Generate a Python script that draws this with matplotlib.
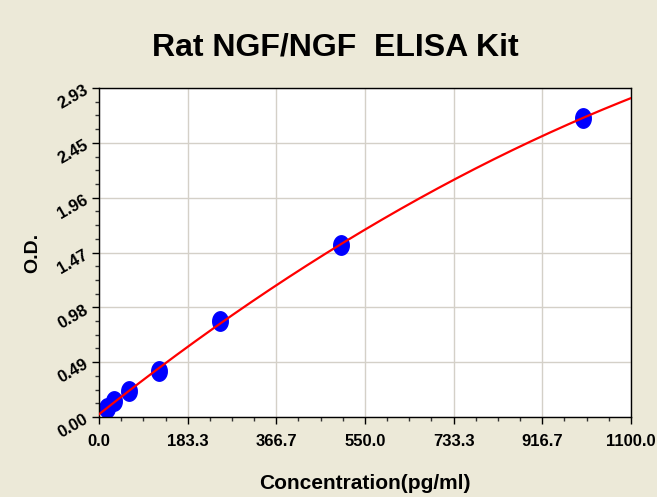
import numpy as np
import matplotlib
matplotlib.use("Agg")
import matplotlib.pyplot as plt
from matplotlib.ticker import FixedLocator, AutoMinorLocator

# Data
concentration = [15.6, 31.25, 62.5, 125, 250, 500, 1000]
od = [0.077, 0.142, 0.234, 0.41, 0.855, 1.532, 2.663]
x_tick_labels = ["0.0", "183.3", "366.7", "550.0", "733.3", "916.7", "1100.0"]
y_tick_labels = ["0.00", "0.49", "0.98", "1.47", "1.96", "2.45", "2.93"]
title = "Rat NGF/NGF  ELISA Kit"
x_max = 1100.0
y_max = 2.93

plt.rcParams['font.family'] = ['Liberation Sans', 'DejaVu Sans']

bg = '#ECE9D8'
fig = plt.figure(figsize=(6.57, 4.97), dpi=100, facecolor=bg)
ax = fig.add_axes([99/657, 80/497, 532/657, 329/497])
ax.set_facecolor('white')

# Fitted curve
coef = np.polyfit(concentration, od, 2)
xs = np.linspace(0, x_max, 400)
ax.plot(xs, np.polyval(coef, xs), color='#FF0000', lw=1.6, zorder=3)

# Ellipse marker
t = np.linspace(0, 2*np.pi, 40)
ell = np.column_stack([0.4*np.cos(t), 0.5*np.sin(t)])
ax.plot(concentration, od, linestyle='none', marker=ell, markersize=14,
        color='#0000FF', markeredgecolor='#0000FF', zorder=2)

ax.set_xlim(0, x_max)
ax.set_ylim(0, y_max)
xt = [i*x_max/6 for i in range(7)]
yt = [i*y_max/6 for i in range(7)]
ax.xaxis.set_major_locator(FixedLocator(xt))
ax.yaxis.set_major_locator(FixedLocator(yt))
ax.set_xticklabels(x_tick_labels, fontsize=12, fontweight='bold')
ax.set_yticklabels(y_tick_labels, fontsize=12, fontweight='bold',
                   rotation=30, ha='right', rotation_mode='anchor')
ax.xaxis.set_minor_locator(AutoMinorLocator(4))
ax.yaxis.set_minor_locator(AutoMinorLocator(4))
ax.tick_params(which='major', direction='out', length=5, width=1, color='black')
ax.tick_params(which='minor', direction='out', length=3, width=1, color='#333333')
ax.tick_params(axis='x', which='major', pad=7)
ax.tick_params(axis='y', which='major', pad=4)
ax.tick_params(top=False, right=False, which='both')

ax.grid(True, which='major', color='#D4D0C8', lw=1)
ax.set_axisbelow(True)
for s in ax.spines.values():
    s.set_color('black')
    s.set_linewidth(1)

ax.set_xlabel("Concentration(pg/ml)", fontsize=15, fontweight='bold', labelpad=18)
ax.set_ylabel("O.D.", fontsize=14, fontweight='bold', labelpad=10)
fig.text(335/657, 1 - 48/497, title, fontsize=23, fontweight='bold',
         ha='center', va='center')

fig.savefig("out.png", dpi=100, facecolor=bg)
